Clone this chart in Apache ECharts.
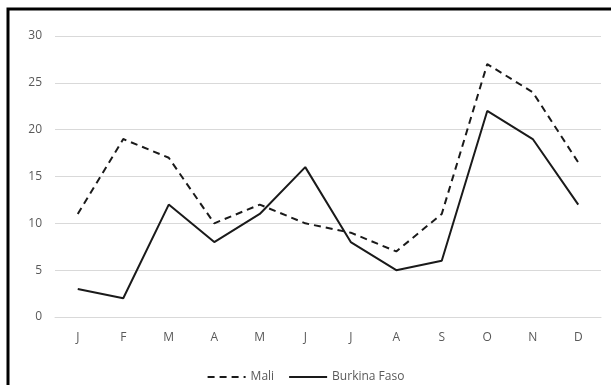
<!DOCTYPE html>
<html>
<head>
<meta charset="utf-8">
<script src="https://cdn.jsdelivr.net/npm/echarts@6/dist/echarts.min.js"></script>
<style>
  html, body { margin: 0; padding: 0; background: #fff; }
  #chart { width: 611px; height: 385px; }
</style>
</head>
<body>
<div id="chart"></div>
<script>
  const months = ['J', 'F', 'M', 'A', 'M', 'J', 'J', 'A', 'S', 'O', 'N', 'D']
  const mali = [11, 19, 17, 10, 12, 10, 9, 7, 11, 27, 24, 16.5]
  const burkina = [3, 2, 12, 8, 11, 16, 8, 5, 6, 22, 19, 12]
  const yTicks = [0, 5, 10, 15, 20, 25, 30]

  const chart = echarts.init(document.getElementById('chart'))
  const textColor = '#595959'
  const font = 'Open Sans'

  const option = {
    animation: false,
    backgroundColor: '#fff',
    textStyle: { fontFamily: font },
    graphic: [{
      // frame of the original picture (cut at right and bottom)
      type: 'rect',
      shape: { x: 8, y: 9, width: 700, height: 500 },
      style: { fill: 'none', stroke: '#000', lineWidth: 3 },
      silent: true
    }],
    grid: {
      left: 55,
      right: 10,
      top: 36,
      bottom: 68
    },
    legend: {
      top: 366,
      left: 'center',
      itemWidth: 38,
      itemHeight: 12,
      itemGap: 14,
      itemStyle: { opacity: 0 },
      textStyle: { color: textColor, fontSize: 12, fontFamily: font },
      data: ['Mali', 'Burkina Faso']
    },
    xAxis: {
      type: 'category',
      data: months,
      boundaryGap: true,
      axisLine: { show: true, lineStyle: { color: '#d9d9d9', width: 1 } },
      axisTick: { show: false },
      axisLabel: { color: textColor, fontSize: 12, margin: 15, fontFamily: font }
    },
    yAxis: {
      type: 'value',
      min: yTicks[0],
      max: yTicks[yTicks.length - 1],
      interval: 5,
      axisLine: { show: false },
      axisTick: { show: false },
      axisLabel: { color: textColor, fontSize: 12, margin: 13, fontFamily: font },
      splitLine: { lineStyle: { color: '#d9d9d9', width: 1 } }
    },
    series: [{
      name: 'Mali',
      type: 'line',
      data: mali,
      symbol: 'none',
      lineStyle: { color: '#1a1a1a', width: 2, type: [7, 5] },
      itemStyle: { color: '#1a1a1a' }
    }, {
      name: 'Burkina Faso',
      type: 'line',
      data: burkina,
      symbol: 'none',
      lineStyle: { color: '#1a1a1a', width: 2, type: 'solid' },
      itemStyle: { color: '#1a1a1a' }
    }]
  }
  chart.setOption(option)
</script>
</body>
</html>
